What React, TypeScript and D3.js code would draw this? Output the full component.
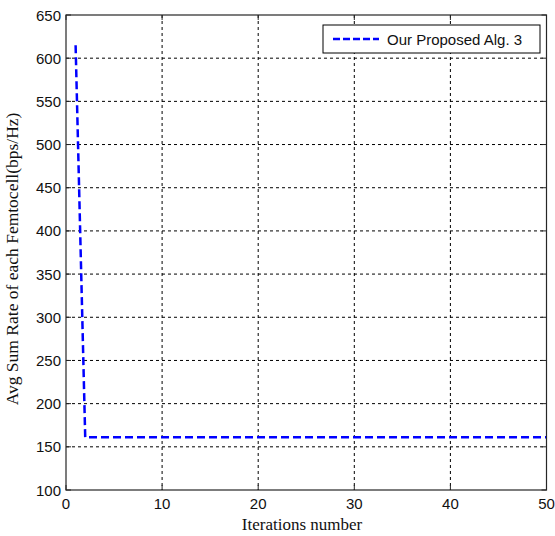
import React from "react";
import * as d3 from "d3";

const iterations: number[] = [
  1, 2, 3, 4, 5, 6, 7, 8, 9, 10, 11, 12, 13, 14, 15, 16, 17, 18, 19, 20, 21, 22, 23, 24, 25,
  26, 27, 28, 29, 30, 31, 32, 33, 34, 35, 36, 37, 38, 39, 40, 41, 42, 43, 44, 45, 46, 47, 48, 49, 50,
];
const sumRate: number[] = [
  615, 161, 161, 161, 161, 161, 161, 161, 161, 161, 161, 161, 161, 161, 161, 161, 161, 161, 161, 161,
  161, 161, 161, 161, 161, 161, 161, 161, 161, 161, 161, 161, 161, 161, 161, 161, 161, 161, 161, 161,
  161, 161, 161, 161, 161, 161, 161, 161, 161, 161,
];
const xTicks: number[] = [0, 10, 20, 30, 40, 50];
const yTicks: number[] = [100, 150, 200, 250, 300, 350, 400, 450, 500, 550, 600, 650];
const seriesName = "Our Proposed Alg. 3";
const xTitle = "Iterations number";
const yTitle = "Avg Sum Rate of each Femtocell(bps/Hz)";

export default function App() {
  const W = 555;
  const H = 536;
  const left = 66;
  const right = 546.5;
  const top = 15;
  const bottom = 490;
  const x = d3.scaleLinear().domain([0, 50]).range([left, right]);
  const y = d3.scaleLinear().domain([100, 650]).range([bottom, top]);
  const line = d3
    .line<number>()
    .x((_, i) => x(iterations[i]))
    .y((d) => y(d));
  const axisColor = "#262626";
  const sans = "'Liberation Sans', Arial, sans-serif";
  const serif = "'Liberation Serif', 'Times New Roman', serif";
  const tl = 5;

  return (
    <svg
      width={W}
      height={H}
      style={{ position: "absolute", left: 0, top: 0, background: "#fff" }}
    >
      <rect x={0} y={0} width={W} height={H} fill="#fff" />
      {/* grid */}
      {xTicks.slice(1, -1).map((t) => (
        <line
          key={"gx" + t}
          x1={x(t)}
          x2={x(t)}
          y1={top}
          y2={bottom}
          stroke="#000"
          strokeWidth={1}
          strokeDasharray="3,3"
        />
      ))}
      {yTicks.slice(1, -1).map((t) => (
        <line
          key={"gy" + t}
          x1={left}
          x2={right}
          y1={y(t)}
          y2={y(t)}
          stroke="#000"
          strokeWidth={1}
          strokeDasharray="3,3"
        />
      ))}
      {/* ticks */}
      {xTicks.map((t) => (
        <g key={"tx" + t}>
          <line x1={x(t)} x2={x(t)} y1={bottom} y2={bottom - tl} stroke={axisColor} />
          <line x1={x(t)} x2={x(t)} y1={top} y2={top + tl} stroke={axisColor} />
          <text
            x={x(t)}
            y={bottom + 19}
            textAnchor="middle"
            fontFamily={sans}
            fontSize={15}
            fill="#111"
          >
            {t}
          </text>
        </g>
      ))}
      {yTicks.map((t) => (
        <g key={"ty" + t}>
          <line x1={left} x2={left + tl} y1={y(t)} y2={y(t)} stroke={axisColor} />
          <line x1={right} x2={right - tl} y1={y(t)} y2={y(t)} stroke={axisColor} />
          <text
            x={left - 5}
            y={y(t) + 5.5}
            textAnchor="end"
            fontFamily={sans}
            fontSize={15}
            fill="#111"
          >
            {t}
          </text>
        </g>
      ))}
      {/* data */}
      <path
        d={line(sumRate) || ""}
        fill="none"
        stroke="#0000ff"
        strokeWidth={2.5}
        strokeDasharray="8,4"
      />
      {/* frame */}
      <rect
        x={left}
        y={top}
        width={right - left}
        height={bottom - top}
        fill="none"
        stroke={axisColor}
        strokeWidth={1.2}
      />
      {/* legend */}
      <rect x={323} y={25} width={217} height={28} fill="#fff" stroke="#000" strokeWidth={1} />
      <line
        x1={333}
        x2={379}
        y1={39}
        y2={39}
        stroke="#0000ff"
        strokeWidth={2.5}
        strokeDasharray="7,3"
      />
      <text x={387} y={44.5} fontFamily={sans} fontSize={15} fill="#111">
        {seriesName}
      </text>
      {/* titles */}
      <text
        x={302}
        y={530}
        textAnchor="middle"
        fontFamily={serif}
        fontSize={17}
        fill="#111"
      >
        {xTitle}
      </text>
      <text
        transform={`translate(18,259) rotate(-90)`}
        textAnchor="middle"
        fontFamily={serif}
        fontSize={17.5}
        fill="#111"
      >
        {yTitle}
      </text>
    </svg>
  );
}
